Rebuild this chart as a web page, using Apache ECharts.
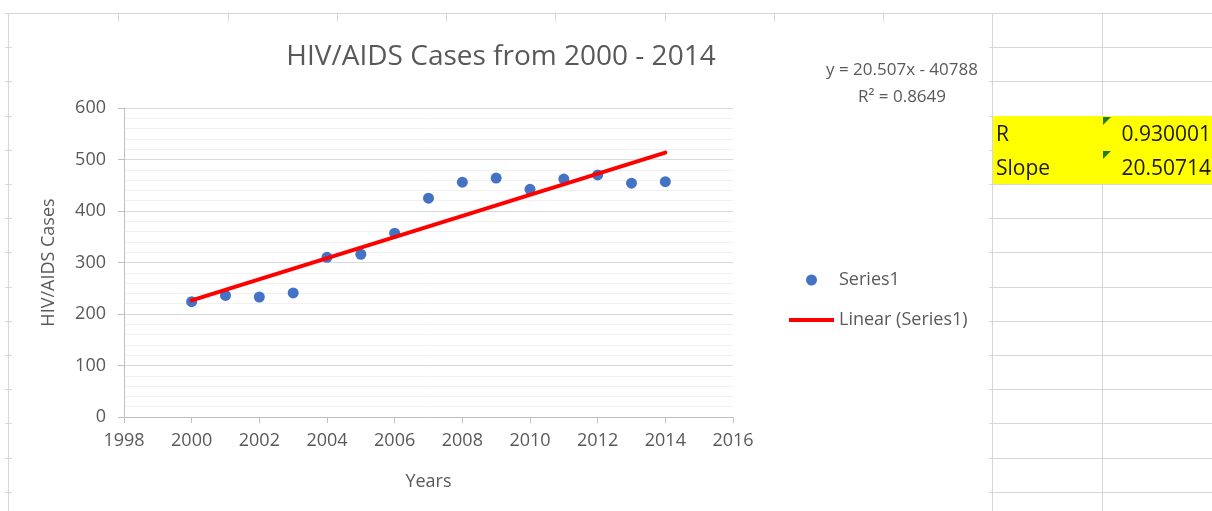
<!DOCTYPE html>
<html>
<head>
<meta charset="utf-8">
<script src="https://cdn.jsdelivr.net/npm/echarts@6/dist/echarts.min.js"></script>
<style>
html, body { margin: 0; padding: 0; background: #fff; }
#main { width: 1212px; height: 511px; }
</style>
</head>
<body>
<div id="main"></div>
<script>
// data
var years = [2000, 2001, 2002, 2003, 2004, 2005, 2006, 2007, 2008, 2009, 2010, 2011, 2012, 2013, 2014];
var hivCases = [224, 236, 233, 241, 310, 316, 357, 425, 456, 464, 442, 462, 470, 454, 457];
// linear trendline end points
var trendYears = [2000, 2014];
var trendCases = [226.3, 513.4];
var equationLines = ['y = 20.507x - 40788', 'R\u00b2 = 0.8649'];
var cellLabels = ['R', 'Slope'];
var cellValues = ['0.930001', '20.50714'];

var chart = echarts.init(document.getElementById('main'));
var font = 'Open Sans';
var textGray = '#595959';
var sheetLine = '#d6d6d6';

// spreadsheet gridlines around the chart object
var rowTops = [13, 47, 81, 116, 150, 184, 218, 252, 287, 321, 355, 389, 423, 458, 492];
var colLefts = [118, 228, 337, 446, 555, 665, 774, 883];
var sheet = [];
sheet.push({ type: 'line', shape: { x1: 8, y1: 13.5, x2: 1212, y2: 13.5 }, style: { stroke: sheetLine, lineWidth: 1 } });
sheet.push({ type: 'line', shape: { x1: 8.5, y1: 13, x2: 8.5, y2: 511 }, style: { stroke: sheetLine, lineWidth: 1 } });
colLefts.forEach(function (x) {
  sheet.push({ type: 'line', shape: { x1: x + 0.5, y1: 13, x2: x + 0.5, y2: 21 }, style: { stroke: sheetLine, lineWidth: 1 } });
});
rowTops.forEach(function (y) {
  sheet.push({ type: 'line', shape: { x1: 5, y1: y + 0.5, x2: 12, y2: y + 0.5 }, style: { stroke: sheetLine, lineWidth: 1 } });
  sheet.push({ type: 'line', shape: { x1: 989, y1: y + 0.5, x2: 1212, y2: y + 0.5 }, style: { stroke: sheetLine, lineWidth: 1 } });
});
sheet.push({ type: 'line', shape: { x1: 992.5, y1: 13, x2: 992.5, y2: 511 }, style: { stroke: sheetLine, lineWidth: 1 } });
sheet.push({ type: 'line', shape: { x1: 1102.5, y1: 13, x2: 1102.5, y2: 511 }, style: { stroke: sheetLine, lineWidth: 1 } });
// yellow cells with R and slope
sheet.push({ type: 'rect', shape: { x: 993, y: 116, width: 219, height: 68 }, style: { fill: '#ffff00' } });
cellLabels.forEach(function (t, i) {
  var base = 146 + i * 34;
  sheet.push({ type: 'text', x: 996, y: base, style: { text: t, fill: '#1a1a1a', font: '21px "Open Sans"', textVerticalAlign: 'bottom', textAlign: 'left' } });
  sheet.push({ type: 'text', x: 1211, y: base, style: { text: cellValues[i], fill: '#1a1a1a', font: '21px "Open Sans"', textVerticalAlign: 'bottom', textAlign: 'right' } });
  sheet.push({ type: 'polygon', shape: { points: [[1103, 117 + i * 34], [1111, 117 + i * 34], [1103, 125 + i * 34]] }, style: { fill: '#1e7b34' } });
});

var option = {
  animation: false,
  backgroundColor: '#fff',
  textStyle: { fontFamily: font },
  title: [
    {
      text: 'HIV/AIDS Cases from 2000 - 2014',
      left: 501, top: 43, textAlign: 'center', padding: 0,
      textStyle: { fontFamily: font, fontSize: 28, fontWeight: 'normal', color: textGray }
    },
    {
      text: equationLines.join('\n'),
      left: 902, top: 57, textAlign: 'center', padding: 0,
      textStyle: { fontFamily: font, fontSize: 17, fontWeight: 'normal', color: textGray, lineHeight: 27 }
    }
  ],
  legend: {
    orient: 'vertical',
    left: 789, top: 270, padding: 0,
    itemWidth: 45, itemHeight: 11, itemGap: 20,
    textStyle: { fontFamily: font, fontSize: 18, color: textGray, lineHeight: 20 },
    data: [
      { name: 'Series1' },
      { name: 'Linear (Series1)', icon: 'path://M0,0L45,0L45,4L0,4Z' }
    ]
  },
  grid: { left: 124, right: 479, top: 108, bottom: 94 },
  xAxis: {
    type: 'value', min: 1998, max: 2016, interval: 2,
    name: 'Years', nameLocation: 'middle', nameGap: 56,
    nameTextStyle: { fontFamily: font, fontSize: 18, color: textGray },
    axisLine: { show: true, onZero: false, lineStyle: { color: '#bfbfbf', width: 1 } },
    axisTick: { show: true, length: 6, lineStyle: { color: '#bfbfbf' } },
    axisLabel: {
      fontFamily: font, fontSize: 18, color: textGray, margin: 15,
      formatter: function (v) { return String(v); }
    },
    splitLine: { show: false }
  },
  yAxis: {
    type: 'value', min: 0, max: 600, interval: 100,
    name: 'HIV/AIDS Cases', nameLocation: 'middle', nameGap: 66, nameRotate: 90,
    nameTextStyle: { fontFamily: font, fontSize: 18, color: textGray },
    axisLine: { show: true, lineStyle: { color: '#bfbfbf', width: 1 } },
    axisTick: { show: true, length: 6, lineStyle: { color: '#bfbfbf' } },
    axisLabel: { fontFamily: font, fontSize: 18, color: textGray, margin: 18 },
    splitLine: { show: true, lineStyle: { color: '#d9d9d9', width: 1 } },
    minorTick: { show: false, splitNumber: 5 },
    minorSplitLine: { show: true, lineStyle: { color: '#f0f0f0', width: 1 } }
  },
  series: [
    {
      name: 'Series1',
      type: 'scatter',
      symbolSize: 11,
      itemStyle: { color: '#4472c4', opacity: 1 },
      data: years.map(function (y, i) { return [y, hivCases[i]]; }),
      z: 2
    },
    {
      name: 'Linear (Series1)',
      type: 'line',
      symbol: 'none',
      lineStyle: { color: '#ff0000', width: 4, cap: 'round' },
      itemStyle: { color: '#ff0000' },
      data: trendYears.map(function (y, i) { return [y, trendCases[i]]; }),
      z: 3
    }
  ],
  graphic: sheet
};

chart.setOption(option);
</script>
</body>
</html>
